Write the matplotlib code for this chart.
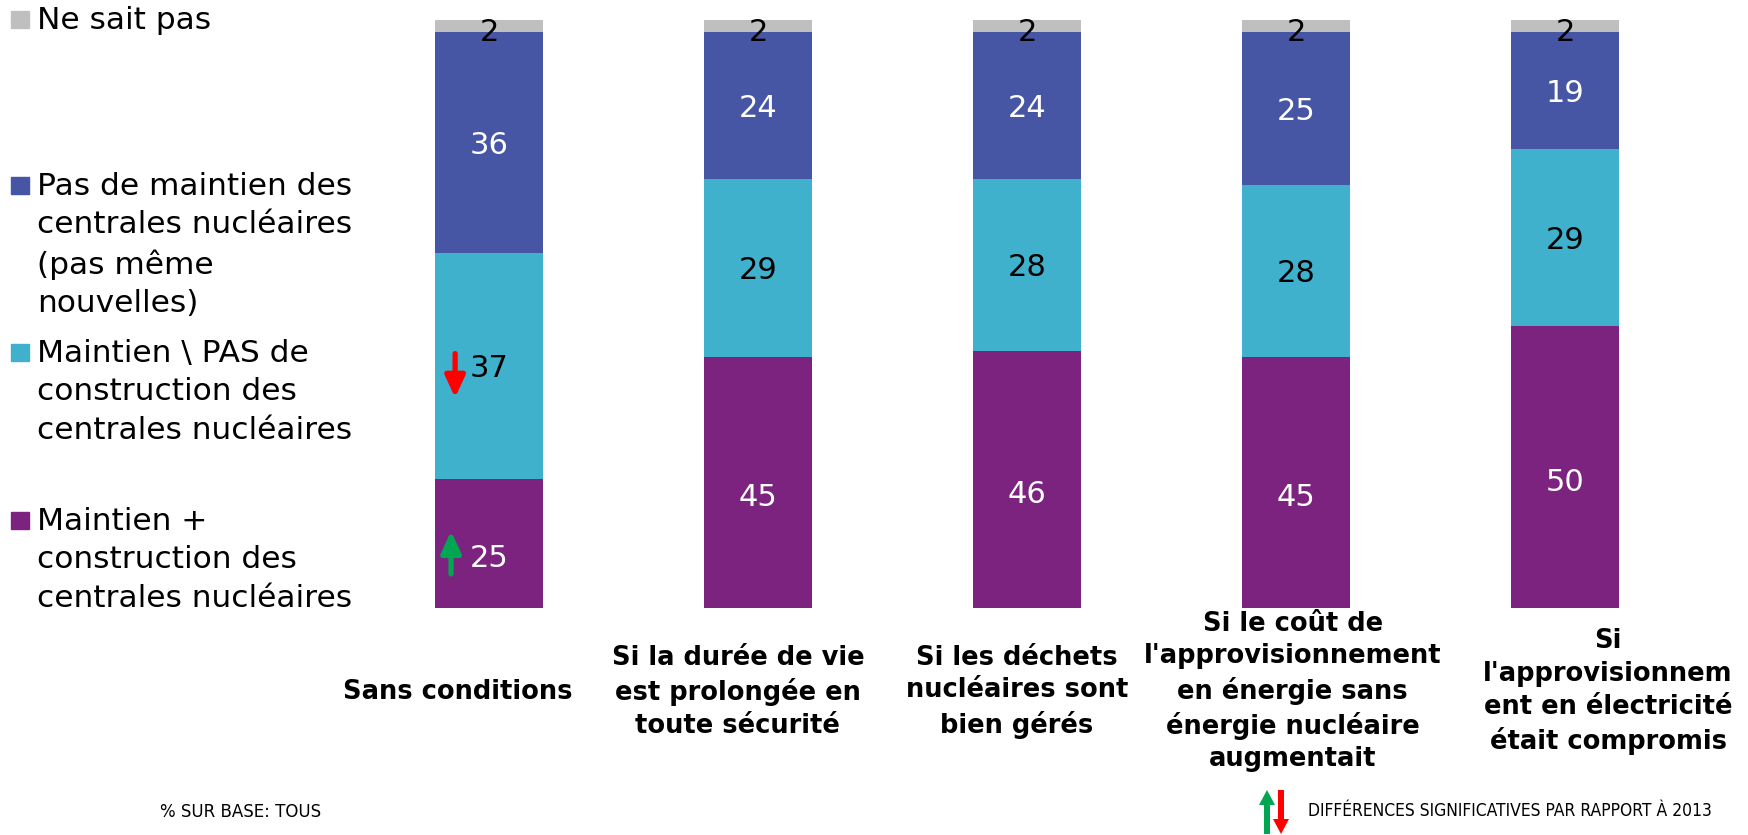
import numpy as np
import matplotlib.pyplot as plt
from matplotlib.patches import Rectangle, FancyArrow

# données (en %)
categories = ["Sans conditions",
              "Si la durée de vie\nest prolongée en\ntoute sécurité",
              "Si les déchets\nnucléaires sont\nbien gérés",
              "Si le coût de\nl'approvisionnement\nen énergie sans\nénergie nucléaire\naugmentait",
              "Si\nl'approvisionnem\nent en électricité\nétait compromis"]
maintien_construction = [25, 45, 46, 45, 50]
maintien_pas_construction = [37, 29, 28, 28, 29]
pas_de_maintien = [36, 24, 24, 25, 19]
ne_sait_pas = [2, 2, 2, 2, 2]

series_names = ["Maintien +\nconstruction des\ncentrales nucléaires",
                "Maintien \\ PAS de\nconstruction des\ncentrales nucléaires",
                "Pas de maintien des\ncentrales nucléaires\n(pas même\nnouvelles)",
                "Ne sait pas"]
colors = ["#7B237E", "#40B1CD", "#4755A5", "#BFBFBF"]
label_colors = ["white", "black", "white", "black"]

# flèches d'évolution significative vs 2013 : (barre, série, sens)
changes = [(0, 0, "up"), (0, 1, "down")]

W, H = 1748, 835
fig = plt.figure(figsize=(W / 100, H / 100), dpi=100)
ax = fig.add_axes([354.5 / W, (H - 607.6) / H, 1345 / W, 587.6 / H])

x = np.arange(len(categories))
data = [maintien_construction, maintien_pas_construction, pas_de_maintien, ne_sait_pas]
bottom = np.zeros(len(categories))
for k, vals in enumerate(data):
    vals = np.array(vals, dtype=float)
    ax.bar(x, vals, width=0.4, bottom=bottom, color=colors[k], edgecolor="none")
    for i in range(len(x)):
        yc = bottom[i] + vals[i] / 2
        if k == 3:
            yc -= 0.6
        ax.text(x[i], yc, "%d" % vals[i], ha="center", va="center_baseline",
                fontsize=22, color=label_colors[k])
    bottom = bottom + vals

# flèches dans les barres
seg_bottoms = np.vstack([np.zeros(len(x)), np.cumsum(data, axis=0)[:-1]])
astyle = "-|>,head_width=0.3,head_length=0.65"
for i, k, sens in changes:
    yc = seg_bottoms[k][i] + data[k][i] / 2
    if sens == "up":
        ax.annotate("", xy=(x[i] - 0.141, yc + 4.0), xytext=(x[i] - 0.141, yc - 3.0),
                    arrowprops=dict(arrowstyle=astyle, color="#00A651", lw=3.8,
                                    mutation_scale=20, shrinkA=0, shrinkB=0))
    else:
        ax.annotate("", xy=(x[i] - 0.126, yc - 5.2), xytext=(x[i] - 0.126, yc + 2.0),
                    arrowprops=dict(arrowstyle=astyle, color="#FF0000", lw=3.8,
                                    mutation_scale=20, shrinkA=0, shrinkB=0))

ax.set_xlim(-0.5, len(categories) - 0.5)
ax.set_ylim(4, 100)
ax.axis("off")

# libellés des catégories (légèrement décalés comme dans l'original)
label_shift = [-0.116, -0.075, -0.037, -0.012, 0.16]
for i, cat in enumerate(categories):
    ax.text(x[i] + label_shift[i], -0.143, cat, transform=ax.get_xaxis_transform(),
            ha="center", va="center", fontsize=18.5, fontweight="bold", linespacing=1.33)

# légende à gauche
leg_centers = [520, 352, 185, 19]
for k in range(4):
    cy = leg_centers[k]
    fig.patches.append(Rectangle((11 / W, 1 - (cy + 8.5) / H), 18 / W, 17 / H,
                                 transform=fig.transFigure, color=colors[k]))
    fig.text(37 / W, 1 - (cy - 13) / H, series_names[k], ha="left", va="top",
             fontsize=22.5, linespacing=1.41)

# notes en bas
fig.text(160 / W, 1 - 812 / H, "% SUR BASE: TOUS", ha="left", va="center", fontsize=12)
fig.text(1308 / W, 1 - 811 / H, "DIFFÉRENCES SIGNIFICATIVES PAR RAPPORT À 2013",
         ha="left", va="center", fontsize=12.5, fontstretch="condensed")
fig.patches.append(FancyArrow(
    1267 / W, 1 - 834 / H, 0, 29 / H, width=6 / W, head_width=16 / W,
    head_length=15 / H, length_includes_head=False, color="#00A651", lw=0,
    transform=fig.transFigure))
fig.patches.append(FancyArrow(
    1281 / W, 1 - 790 / H, 0, -29 / H, width=6 / W, head_width=16 / W,
    head_length=15 / H, length_includes_head=False, color="#FF0000", lw=0,
    transform=fig.transFigure))

fig.savefig("out.png", dpi=100)
